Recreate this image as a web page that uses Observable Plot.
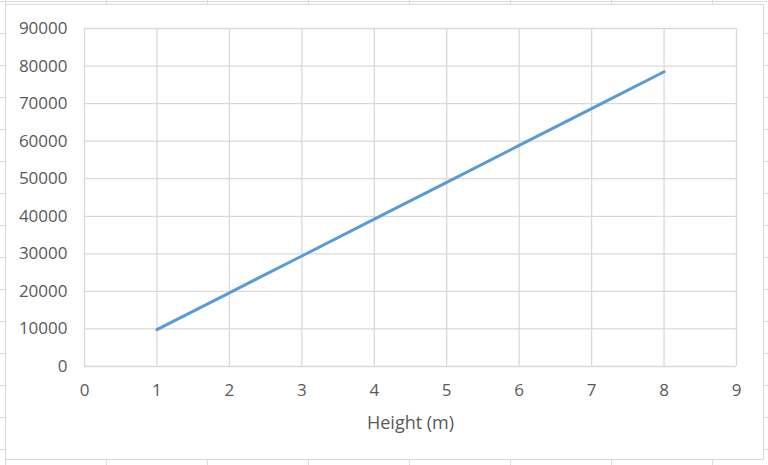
<!DOCTYPE html>
<html>
<head>
<meta charset="utf-8">
<script src="https://cdn.jsdelivr.net/npm/d3@7"></script>
<script src="https://cdn.jsdelivr.net/npm/@observablehq/plot@0.6"></script>
<style>
  html, body { margin: 0; padding: 0; }
  body {
    width: 768px; height: 465px; overflow: hidden; position: relative;
    background-color: #fff;
    background-image:
      linear-gradient(to right, #dcdcdc 1px, transparent 1px),
      linear-gradient(to bottom, #dcdcdc 1px, transparent 1px);
    background-size: 101px 32px, 101px 32px;
    background-position: 5px 1px, 0 1px;
  }
  #frame {
    position: absolute; left: 5px; top: 4px; width: 757px; height: 454px;
    border: 1px solid #d9d9d9; background: #fff;
  }
  #chart { position: absolute; left: 0; top: 0; }
  #chart svg text { font-family: 'Open Sans', sans-serif !important; }
  #chart svg g[aria-label="x-axis tick label"] text,
  #chart svg g[aria-label="y-axis tick label"] text { font-size: 17px !important; }
  #chart svg g[aria-label="text"] text { font-size: 18px !important; }
</style>
</head>
<body>
<div id="frame"></div>
<div id="chart"></div>
<script>
const heights = [1, 2, 3, 4, 5, 6, 7, 8];
const energies = [9810, 19620, 29430, 39240, 49050, 58860, 68670, 78480];
const xTicks = [0, 1, 2, 3, 4, 5, 6, 7, 8, 9];
const yTicks = [0, 10000, 20000, 30000, 40000, 50000, 60000, 70000, 80000, 90000];
const xLabel = "Height (m)";

const data = heights.map((h, i) => ({h, e: energies[i]}));
const gridColor = "#d9d9d9";

const chart = Plot.plot({
  width: 768,
  height: 465,
  marginLeft: 84,
  marginRight: 32,
  marginTop: 28,
  marginBottom: 99,
  style: {fontFamily: "'Open Sans', sans-serif", color: "#595959", background: "transparent", overflow: "visible"},
  x: {domain: [0, 9], ticks: xTicks, label: null},
  y: {domain: [0, 90000], ticks: yTicks, label: null},
  marks: [
    Plot.gridX(xTicks, {stroke: gridColor, strokeOpacity: 1, strokeWidth: 1.3}),
    Plot.gridY(yTicks, {stroke: gridColor, strokeOpacity: 1, strokeWidth: 1.3}),
    Plot.axisX(xTicks, {tickSize: 0, tickPadding: 17, tickFormat: d => String(d), fill: "#595959"}),
    Plot.axisY(yTicks, {tickSize: 0, tickPadding: 17, tickFormat: d => String(d), fill: "#595959"}),
    Plot.text([xLabel], {frameAnchor: "bottom", lineAnchor: "middle", dy: 57, fill: "#595959"}),
    Plot.line(data, {x: "h", y: "e", stroke: "#5b9bd5", strokeWidth: 3, strokeLinecap: "round"})
  ]
});
document.getElementById("chart").appendChild(chart);
</script>
</body>
</html>
